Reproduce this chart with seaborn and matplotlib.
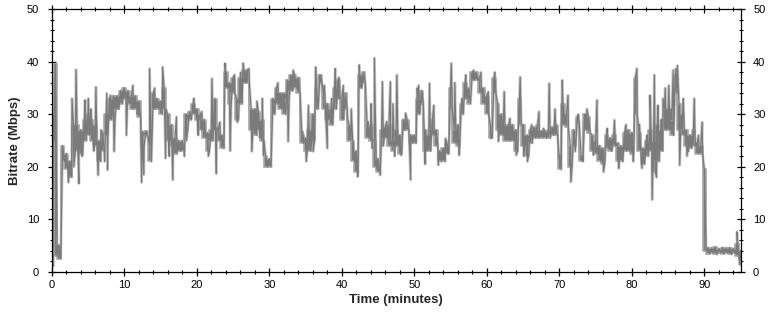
import numpy as np
import pandas as pd
import matplotlib
matplotlib.use("Agg")
import matplotlib.pyplot as plt
from matplotlib.ticker import MultipleLocator
import seaborn as sns

# Sample grid: every half minute, the top and bottom of the dense bitrate band
minutes = [i * 0.5 for i in range(191)]  # 0 .. 95

band_top = [
    30, 39.5, 5, 24, 22.5, 21, 28, 28, 27, 29,              # 0 - 4.5
    30, 29, 28, 25, 26.5, 30, 33, 33.5, 33.5, 34.5,         # 5 - 9.5
    35, 34.5, 33.5, 33.5, 32.5, 26.7, 26.8, 24, 34, 33,     # 10 - 14.5
    32.5, 35, 30, 28, 25.5, 25, 25, 30, 30.5, 32,           # 15 - 19.5
    31, 30, 29, 26.5, 27, 33, 27.5, 26, 38, 36,             # 20 - 24.5
    37, 33, 37, 38.5, 38.5, 31, 31, 30.5, 29, 22,           # 25 - 29.5
    21.5, 33, 35, 34, 34, 36.5, 37.5, 37.5, 37, 26,         # 30 - 34.5
    25.5, 27, 30, 35, 37.5, 34, 32, 31, 35, 36.5,           # 35 - 39.5
    33, 34, 28, 25, 23, 37.5, 38, 27.5, 28, 25,             # 40 - 44.5
    21.5, 27, 27.5, 28, 25, 27, 26, 29, 29, 26,             # 45 - 49.5
    26, 33, 34.5, 27, 26, 29, 27, 23, 23.5, 24.5,           # 50 - 54.5
    35, 27, 28, 32, 36, 35, 38, 38, 37, 35,                 # 55 - 59.5
    33.5, 28, 37, 32, 30, 28, 28, 28, 27, 33,               # 60 - 64.5
    28, 26, 27, 27.5, 28, 26.8, 26.8, 27, 27.5, 28,         # 65 - 69.5
    21.5, 32, 30, 24, 27, 29.5, 22, 30, 29.5, 26,           # 70 - 74.5
    25, 24, 23.5, 26, 25.5, 26, 24.5, 24, 26.5, 27,         # 75 - 79.5
    26.5, 37, 26.5, 23.5, 25, 27, 25, 28, 27, 31,           # 80 - 84.5
    31, 29, 37.5, 32, 30, 27, 26, 27, 24.5, 24,             # 85 - 89.5
    19.5, 4.6, 4.5, 4.7, 4.4, 4.6, 4.5, 4.6, 4.4, 5.2,      # 90 - 94.5
    4.0,                                                    # 95
]

band_bottom = [
    25, 3, 2.5, 21, 19.5, 18, 23, 23, 22.5, 25,             # 0 - 4.5
    26, 25, 24, 21, 23, 26, 29, 29.5, 31, 32,               # 5 - 9.5
    33, 32, 31, 31, 29.5, 24, 25.8, 21, 31, 31,             # 10 - 14.5
    30, 31, 25, 24, 22.5, 23, 23, 27, 29, 30,               # 15 - 19.5
    29, 27, 25.5, 23, 25, 27, 25, 23.5, 35, 32,             # 20 - 24.5
    34, 29, 32, 36, 36, 27, 26, 27, 25, 20,                 # 25 - 29.5
    20, 30, 32, 31, 30, 33, 34.5, 35, 34, 24.5,             # 30 - 34.5
    23, 23, 25, 31, 36, 31, 29, 28, 31, 33,                 # 35 - 39.5
    29, 31, 25, 21, 19, 35, 36, 25.5, 25, 20,               # 40 - 44.5
    19, 24, 25.5, 24, 23, 24, 22.5, 27, 27, 24.5,           # 45 - 49.5
    24.5, 30, 32, 23, 23, 26, 24, 21, 21, 22.5,             # 50 - 54.5
    31, 24.5, 24, 30, 33, 32, 36.5, 36.5, 34, 32,           # 55 - 59.5
    30, 25.5, 34, 27, 26, 25, 25, 25, 23, 28,               # 60 - 64.5
    24, 22, 24.5, 25.5, 25.5, 25.5, 25.5, 25.5, 26, 26,     # 65 - 69.5
    19.5, 28, 27.5, 20, 24, 28.2, 21, 27, 26.5, 23,         # 70 - 74.5
    22.5, 21, 20.5, 23.5, 23, 24, 21, 21, 23, 23,           # 75 - 79.5
    22.5, 30, 23, 20.5, 22, 23, 19, 21, 23, 27,             # 80 - 84.5
    27, 26, 34, 27, 26, 24, 23.5, 24, 22.5, 22.5,           # 85 - 89.5
    4, 3.4, 3.5, 3.3, 3.6, 3.4, 3.5, 3.3, 3.5, 2.9,         # 90 - 94.5
    2.5,                                                    # 95
]

# Thin excursions above / below the band (large spikes and smaller jitter)
spike_minutes = [
    0.2, 2.8, 3.35, 3.75, 4.6, 5.4, 6.1, 6.4, 7.6, 7.7,
    8.6, 10.3, 12.4, 13.5, 15.3, 15.7, 16.7, 18.6, 19.6, 22.1,
    22.7, 23.9, 24.6, 26.4, 27.6, 28.3, 29.2, 32.6, 35.1, 36.4,
    38.0, 39.1, 42.2, 42.4, 44.2, 44.5, 44.8, 45.3, 45.6, 46.7,
    47.3, 47.6, 49.5, 50.4, 51.5, 52.1, 55.1, 55.6, 56.2, 57.1,
    61.1, 62.4, 64.6, 65.1, 65.6, 67.2, 68.6, 69.4, 70.4, 71.6,
    72.6, 75.2, 76.1, 77.6, 80.7, 81.4, 82.5, 82.8, 83.1, 83.4,
    84.3, 85.1, 85.7, 86.3, 86.6, 87.6, 88.6, 94.5, 94.9,
    2.3, 3.05, 4.2, 5.05, 5.8, 6.8, 7.3, 8.1, 9.2, 11.2,
    11.8, 12.7, 14.2, 16.2, 17.2, 18.3, 20.2, 20.7, 21.6, 23.2,
    25.2, 25.6, 26.05, 27.2, 28.7, 29.05, 31.2, 33.3, 34.6, 35.4,
    36.05, 37.6, 38.6, 39.6, 40.2, 40.8, 41.3, 43.6, 44.05, 46.2,
    47.05, 48.2, 48.8, 50.6, 52.7, 53.3, 54.3, 56.6, 58.2, 59.2,
    60.2, 60.6, 61.6, 63.2, 64.05, 66.2, 67.8, 70.05, 71.2, 72.2,
    73.2, 73.8, 74.7, 76.6, 78.2, 79.2, 80.2, 81.05, 82.1, 83.6,
    84.05, 84.6, 85.4, 86.05, 87.1, 87.8, 89.2, 89.7,
]
spike_values = [
    1.0, 33, 38.5, 16.8, 32.7, 31, 35.2, 18.4, 34, 19.4,
    22.9, 26, 17, 38.7, 39, 21.6, 17.5, 25, 33, 36.8,
    18.7, 39.7, 23, 39.7, 22.9, 32.5, 22.2, 24.8, 21, 39,
    23.5, 38.7, 18.1, 39.4, 23.5, 40.7, 19.7, 18.4, 36.2, 36.2,
    22, 37.5, 17.5, 35, 20.5, 35.9, 39.7, 36, 22.2, 37.5,
    38, 34.3, 37.1, 22, 21, 30.5, 35.9, 31, 36.5, 17.1,
    30, 32.7, 19, 28.9, 38.7, 19.7, 33.6, 13.7, 37.5, 18,
    33, 35.5, 38.4, 39.3, 20.3, 22, 33, 7.6, 1.3,
    17, 20, 22, 33, 23, 27, 21, 33.6, 31, 35.5,
    30, 18.5, 35, 22, 29.5, 22, 26, 30.5, 22, 28.5,
    37.5, 28.5, 38, 38.7, 25.5, 33, 36, 38.4, 26.7, 31.7,
    22.9, 35.5, 33, 37, 35.5, 29, 31, 28.6, 32, 28.6,
    32, 22.2, 30.2, 35.5, 31.7, 20.3, 25.4, 33, 38.4, 38,
    34.3, 25.4, 24.8, 29.2, 22.2, 28, 27.3, 22.2, 33.6, 22.9,
    22, 31, 22.2, 27.3, 19.7, 28, 21, 28, 26, 31.7,
    29, 35, 31, 38.7, 33, 22.9, 26, 28.5,
]

x_ticks = [0, 10, 20, 30, 40, 50, 60, 70, 80, 90]
y_ticks = [0, 10, 20, 30, 40, 50]

# One trace: band top at t, band bottom at t+0.25, plus the excursions
t_all, v_all = [], []
for t, hi, lo in zip(minutes, band_top, band_bottom):
    t_all.append(t)
    v_all.append(hi)
    if t < 95:
        t_all.append(t + 0.25)
        v_all.append(lo)
t_all += spike_minutes
v_all += spike_values
df = pd.DataFrame({"Time (minutes)": t_all, "Bitrate (Mbps)": v_all})
df = df.sort_values("Time (minutes)", kind="stable").reset_index(drop=True)

sns.set_style("ticks")
plt.rcParams["font.family"] = ["Liberation Sans", "DejaVu Sans"]

fig = plt.figure(figsize=(7.73, 3.21), dpi=100)
ax = fig.add_axes([0.0669, 0.1536, 0.8912, 0.8174])

# light halo, dense band (step-like level changes), then the trace itself
sns.lineplot(data=df, x="Time (minutes)", y="Bitrate (Mbps)", ax=ax,
             estimator=None, color="#cdcdcd", linewidth=2.0, zorder=1)
ax.fill_between(minutes, band_bottom, band_top, step="mid", color="#7e7e7e",
                edgecolor="#a8a8a8", linewidth=1.2, zorder=2)
sns.lineplot(data=df, x="Time (minutes)", y="Bitrate (Mbps)", ax=ax,
             estimator=None, color="#7a7a7a", linewidth=0.9, zorder=3)

ax.set_xlim(0, 95)
ax.set_ylim(0, 50)
ax.set_xticks(x_ticks)
ax.set_yticks(y_ticks)
ax.xaxis.set_minor_locator(MultipleLocator(2))
ax.yaxis.set_minor_locator(MultipleLocator(2))

for s in ax.spines.values():
    s.set_visible(True)
    s.set_color("black")
    s.set_linewidth(0.9)
    s.set_zorder(5)

ax.tick_params(which="major", direction="inout", length=6, width=0.9,
               top=True, right=True, labelright=True, labelsize=8,
               colors="black", pad=3)
ax.tick_params(which="minor", direction="inout", length=3, width=0.8,
               top=True, right=True, colors="black")
ax.tick_params(axis="y", which="major", pad=6)

ax.set_xlabel("Time (minutes)", fontsize=9.5, fontweight="bold", labelpad=3)
ax.set_ylabel("Bitrate (Mbps)", fontsize=9.5, fontweight="bold", labelpad=4)

fig.savefig("out.png", dpi=100)
